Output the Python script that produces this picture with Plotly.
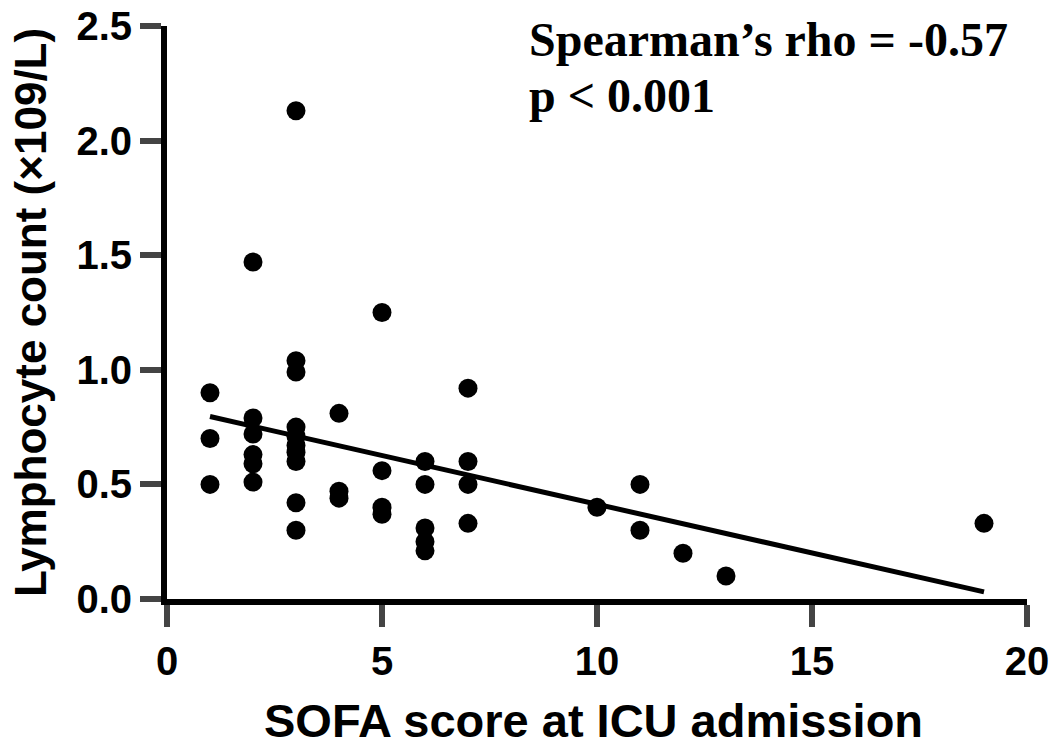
import numpy as np
import plotly.graph_objects as go

# SOFA score (x) and lymphocyte count (y)
sofa = [1, 1, 1,
        2, 2, 2, 2, 2, 2,
        3, 3, 3, 3, 3, 3, 3, 3, 3, 3,
        4, 4, 4,
        5, 5, 5, 5,
        6, 6, 6, 6, 6,
        7, 7, 7, 7,
        10,
        11, 11,
        12,
        13,
        19]
lymph = [0.90, 0.70, 0.50,
         1.47, 0.79, 0.72, 0.63, 0.59, 0.51,
         2.13, 1.04, 0.99, 0.75, 0.71, 0.67, 0.64, 0.60, 0.42, 0.30,
         0.81, 0.47, 0.44,
         1.25, 0.56, 0.40, 0.37,
         0.60, 0.50, 0.31, 0.25, 0.21,
         0.92, 0.60, 0.50, 0.33,
         0.40,
         0.50, 0.30,
         0.20,
         0.10,
         0.33]

x_ticks = [0, 5, 10, 15, 20]
y_ticks = [0.0, 0.5, 1.0, 1.5, 2.0, 2.5]
y_ticklabels = ["0.0", "0.5", "1.0", "1.5", "2.0", "2.5"]

x_title = "SOFA score at ICU admission"
y_title = "Lymphocyte count (\u00d7109/L)"
stat_lines = ["Spearman\u2019s rho = -0.57", "p < 0.001"]

# linear fit
slope, intercept = np.polyfit(sofa, lymph, 1)
fit_x = [min(sofa), max(sofa)]
fit_y = [intercept + slope * v for v in fit_x]

fig = go.Figure()
fig.add_trace(go.Scatter(x=fit_x, y=fit_y, mode="lines",
                         line=dict(color="black", width=5), showlegend=False))
fig.add_trace(go.Scatter(x=sofa, y=lymph, mode="markers",
                         marker=dict(color="black", size=19, line=dict(width=0)),
                         showlegend=False, cliponaxis=False))

W, H = 1056, 751
L, R, T, B = 167, 29, 26, 152
plot_w = W - L - R
plot_h = H - T - B

tick_font = dict(family="Liberation Sans, Arial", size=40, color="black", weight="bold")
fig.update_layout(
    width=W, height=H,
    margin=dict(l=L, r=R, t=T, b=B),
    plot_bgcolor="white", paper_bgcolor="white",
    xaxis=dict(range=[0, 20], tickvals=x_ticks, ticks="outside", ticklen=22,
               tickwidth=6, showline=True, linewidth=6, linecolor="black",
               showgrid=False, zeroline=False, automargin=False,
               ticklabeloverflow="allow", tickfont=tick_font),
    yaxis=dict(range=[0, 2.5], tickvals=y_ticks, ticktext=y_ticklabels, ticks="outside",
               ticklen=21, tickwidth=6, showline=True, linewidth=6, linecolor="black",
               showgrid=False, zeroline=False, automargin=False,
               ticklabeloverflow="allow", tickfont=tick_font,
               title=dict(text="<b>" + y_title + "</b>",
                          font=dict(family="Liberation Sans, Arial", size=44, color="black"),
                          standoff=18)),
    annotations=[
        dict(text="<b>" + x_title + "</b>", xref="paper", yref="paper",
             x=(593 - L) / plot_w, y=1 - (720 - T) / plot_h, xanchor="center", yanchor="middle",
             showarrow=False,
             font=dict(family="Liberation Sans, Arial", size=47, color="black")),
        dict(text="<b>" + stat_lines[0] + "</b>", xref="paper", yref="paper",
             x=(527 - L) / plot_w, y=1 - (40 - T) / plot_h, xanchor="left", yanchor="middle",
             showarrow=False,
             font=dict(family="Liberation Serif, Times New Roman", size=48, color="black")),
        dict(text="<b>" + stat_lines[1] + "</b>", xref="paper", yref="paper",
             x=(527 - L) / plot_w, y=1 - (96 - T) / plot_h, xanchor="left", yanchor="middle",
             showarrow=False,
             font=dict(family="Liberation Serif, Times New Roman", size=48, color="black")),
    ],
)
# remove the browser's default 8px page margin so the figure fills the window
fig.write_html("out.html", config={"displayModeBar": False},
               post_script="document.body.style.margin='0';")
